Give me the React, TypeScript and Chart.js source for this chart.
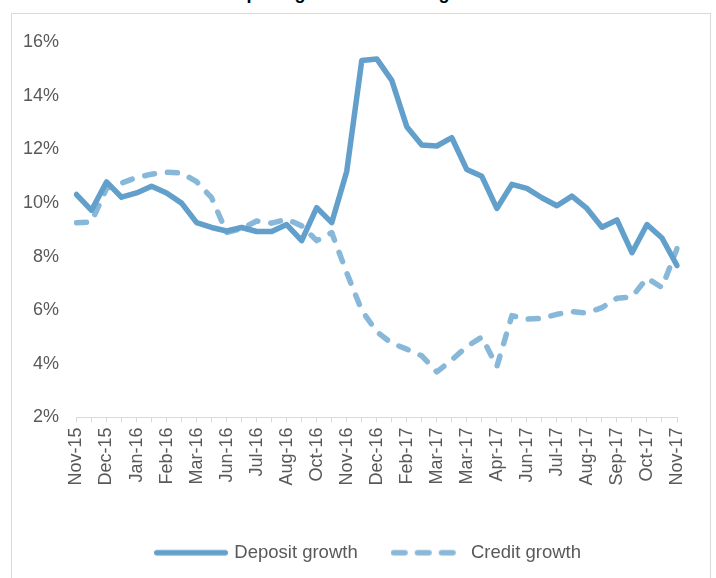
import React, { useEffect, useRef } from 'react';
import { Chart, registerables } from 'chart.js';

Chart.register(...registerables);

const tickLabels = [
  'Nov-15', 'Dec-15', 'Jan-16', 'Feb-16', 'Mar-16', 'Jun-16', 'Jul-16', 'Aug-16', 'Oct-16', 'Nov-16', 'Dec-16',
  'Feb-17', 'Mar-17', 'Mar-17', 'Apr-17', 'Jun-17', 'Jul-17', 'Aug-17', 'Sep-17', 'Oct-17', 'Nov-17',
];

const depositGrowth = [
  10.32, 9.73, 10.79, 10.22, 10.38, 10.63, 10.38, 10.0, 9.27, 9.09,
  8.96, 9.09, 8.94, 8.94, 9.2, 8.6, 9.83, 9.27, 11.18, 15.32,
  15.38, 14.58, 12.85, 12.17, 12.13, 12.44, 11.25, 11.0, 9.8, 10.7,
  10.55, 10.2, 9.9, 10.26, 9.8, 9.1, 9.37, 8.15, 9.2, 8.7,
  7.67,
];

const creditGrowth = [
  9.27, 9.3, 10.55, 10.75, 10.95, 11.08, 11.15, 11.12, 10.8, 10.2,
  8.9, 9.05, 9.33, 9.25, 9.4, 9.15, 8.6, 8.9, 7.4, 6.0,
  5.2, 4.77, 4.55, 4.3, 3.7, 4.15, 4.65, 5.0, 3.9, 5.8,
  5.67, 5.7, 5.85, 5.95, 5.9, 6.1, 6.45, 6.5, 7.2, 6.85,
  8.3,
];

const categories = depositGrowth.map((_, i) => (i % 2 === 0 ? tickLabels[i / 2] : ''));

const titleText = 'Deposit growth vs credit growth';
const FONT = "'Liberation Sans', Arial, sans-serif";
const TEXT = '#595959';
const DEPOSIT_COLOR = '#62A0CB';
const CREDIT_COLOR = '#88B8D9';
const LINE_W = 5.5;
const LEGEND_LEFT = 49;

function legendSample(color: string, dash: number[]): HTMLCanvasElement {
  const c = document.createElement('canvas');
  c.width = 74;
  c.height = 8;
  const ctx = c.getContext('2d') as CanvasRenderingContext2D;
  ctx.strokeStyle = color;
  ctx.lineWidth = LINE_W;
  ctx.lineCap = 'round';
  ctx.setLineDash(dash);
  ctx.beginPath();
  ctx.moveTo(LINE_W / 2, 4);
  ctx.lineTo(74 - LINE_W / 2, 4);
  ctx.stroke();
  return c;
}

const legendShift = {
  id: 'legendShift',
  afterLayout(chart: any) {
    if (chart.legend) chart.legend.left = LEGEND_LEFT;
  },
};

export default function App() {
  const ref = useRef<HTMLCanvasElement>(null);

  useEffect(() => {
    const depositSample = legendSample(DEPOSIT_COLOR, []);
    const creditSample = legendSample(CREDIT_COLOR, [11.5, 12.5]);
    const chart = new Chart(ref.current as HTMLCanvasElement, {
      type: 'line',
      data: {
        labels: categories,
        datasets: [
          {
            label: 'Deposit growth',
            data: depositGrowth,
            borderColor: DEPOSIT_COLOR,
            backgroundColor: DEPOSIT_COLOR,
            borderWidth: LINE_W,
            pointRadius: 0,
            pointStyle: depositSample,
            tension: 0,
            borderJoinStyle: 'round',
            borderCapStyle: 'round',
          },
          {
            label: 'Credit growth',
            data: creditGrowth,
            borderColor: CREDIT_COLOR,
            backgroundColor: CREDIT_COLOR,
            borderWidth: LINE_W,
            pointRadius: 0,
            pointStyle: creditSample,
            tension: 0,
            borderDash: [10, 13],
            borderJoinStyle: 'round',
            borderCapStyle: 'round',
          },
        ],
      },
      plugins: [legendShift],
      options: {
        responsive: false,
        animation: false,
        layout: { padding: { left: 0, right: 33, top: 26, bottom: 6 } },
        plugins: {
          legend: {
            position: 'bottom',
            labels: {
              usePointStyle: true,
              pointStyleWidth: 68,
              padding: 36,
              color: TEXT,
              font: { family: FONT, size: 18.5 },
            },
          },
          tooltip: { enabled: false },
        },
        scales: {
          x: {
            grid: { display: true, drawOnChartArea: false, drawTicks: true, tickLength: 5, color: '#d9d9d9' },
            border: { display: true, color: '#d9d9d9', width: 1 },
            ticks: {
              autoSkip: false,
              maxRotation: 90,
              minRotation: 90,
              padding: 5,
              color: TEXT,
              font: { family: FONT, size: 18 },
            },
            afterFit: (s: any) => {
              s.height = 90;
            },
          },
          y: {
            min: 2,
            max: 16,
            grid: { display: false, drawTicks: false },
            border: { display: false },
            ticks: {
              stepSize: 2,
              padding: 17.5,
              color: TEXT,
              font: { family: FONT, size: 18 },
              callback: (v: any) => v + '%',
            },
            afterFit: (s: any) => {
              s.width = 64.5;
            },
          },
        },
      },
    } as any);
    return () => chart.destroy();
  }, []);

  return (
    <div
      style={{
        position: 'absolute',
        left: 0,
        top: 0,
        width: 716,
        height: 578,
        overflow: 'hidden',
        background: '#fff',
      }}
    >
      <div
        style={{
          position: 'absolute',
          left: 11,
          top: -17,
          width: 700,
          textAlign: 'center',
          fontFamily: FONT,
          fontWeight: 'bold',
          fontSize: 18,
          lineHeight: '20px',
          color: '#000',
          whiteSpace: 'nowrap',
        }}
      >
        {titleText}
      </div>
      <div
        style={{
          position: 'absolute',
          left: 11,
          top: 13,
          width: 700,
          height: 600,
          border: '1px solid #d9d9d9',
          boxSizing: 'border-box',
        }}
      >
        <canvas ref={ref} width={698} height={564} style={{ display: 'block' }} />
      </div>
    </div>
  );
}
